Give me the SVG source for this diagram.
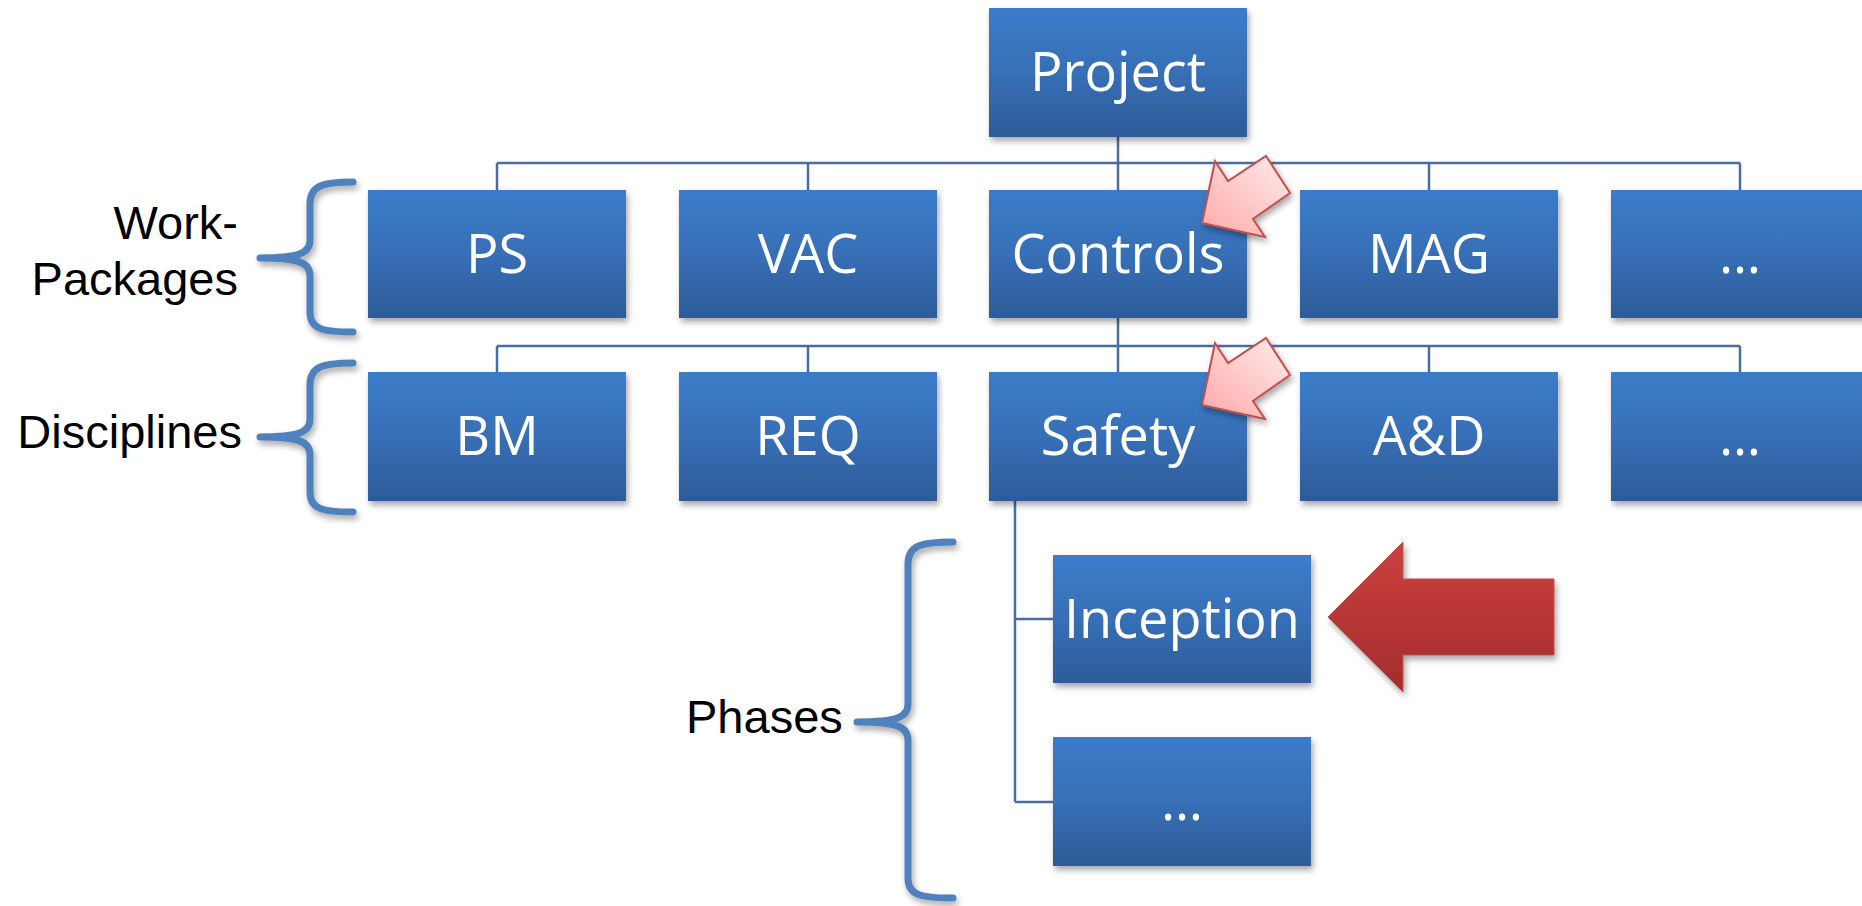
<svg xmlns="http://www.w3.org/2000/svg" width="1862" height="906" viewBox="0 0 1862 906">
  <defs>
    <linearGradient id="boxFill" x1="0" y1="0" x2="0" y2="1">
      <stop offset="0" stop-color="#3b7cca"/>
      <stop offset="0.5" stop-color="#376fb6"/>
      <stop offset="1" stop-color="#2d5b98"/>
    </linearGradient>
    <linearGradient id="pinkFill" x1="0" y1="1" x2="1" y2="0">
      <stop offset="0" stop-color="#ffa8a8"/>
      <stop offset="1" stop-color="#ffecec"/>
    </linearGradient>
    <linearGradient id="redFill" x1="0" y1="0" x2="0" y2="1">
      <stop offset="0" stop-color="#cc403e"/>
      <stop offset="1" stop-color="#a32d2c"/>
    </linearGradient>
    <filter id="shadow" x="-10%" y="-10%" width="125%" height="135%">
      <feDropShadow dx="2" dy="4" stdDeviation="3" flood-color="#000" flood-opacity="0.35"/>
    </filter>
    <style>
      .box { fill: url(#boxFill); filter: url(#shadow); }
      .lbl { fill: #ffffff; font-family: "Open Sans", "Noto Sans", sans-serif; font-size: 54px; text-anchor: middle; }
      .side { fill: #000000; font-family: "Liberation Sans", Arial, sans-serif; font-size: 47px; }
      .conn { fill: none; stroke: #4a6d9f; stroke-width: 2.5; }
      .brace { fill: none; stroke: #4f81bd; stroke-width: 7; stroke-linecap: round; stroke-linejoin: round; filter: url(#shadow); }
      .pink { fill: url(#pinkFill); stroke: #c0504d; stroke-width: 2; filter: url(#shadow); }
      .red { fill: url(#redFill); stroke: #c0504d; stroke-width: 1; filter: url(#shadow); }
    </style>
  </defs>

  <rect width="1862" height="906" fill="#ffffff"/>

  <!-- connectors -->
  <g id="connectors">
    <path class="conn" d="M1118,137 V163 M497,163 H1740 M497,163 V190 M808,163 V190 M1118,163 V190 M1429,163 V190 M1740,163 V190"/>
    <path class="conn" d="M1118,318 V346 M497,346 H1740 M497,346 V372 M808,346 V372 M1118,346 V372 M1429,346 V372 M1740,346 V372"/>
    <path class="conn" d="M1015,501 V802 M1015,619 H1053 M1015,802 H1053"/>
  </g>

  <!-- top -->
  <g id="project">
    <rect class="box" x="989" y="8" width="258" height="129"/>
    <text class="lbl" x="1118" y="91">Project</text>
  </g>

  <!-- work packages -->
  <g id="wp-ps">
    <rect class="box" x="368" y="190" width="258" height="128"/>
    <text class="lbl" x="497" y="273">PS</text>
  </g>
  <g id="wp-vac">
    <rect class="box" x="679" y="190" width="258" height="128"/>
    <text class="lbl" x="808" y="273">VAC</text>
  </g>
  <g id="wp-controls">
    <rect class="box" x="989" y="190" width="258" height="128"/>
    <text class="lbl" x="1118" y="273">Controls</text>
  </g>
  <g id="wp-mag">
    <rect class="box" x="1300" y="190" width="258" height="128"/>
    <text class="lbl" x="1429" y="273">MAG</text>
  </g>
  <g id="wp-more">
    <rect class="box" x="1611" y="190" width="258" height="128"/>
    <text class="lbl" x="1740" y="273">…</text>
  </g>

  <!-- disciplines -->
  <g id="d-bm">
    <rect class="box" x="368" y="372" width="258" height="129"/>
    <text class="lbl" x="497" y="455">BM</text>
  </g>
  <g id="d-req">
    <rect class="box" x="679" y="372" width="258" height="129"/>
    <text class="lbl" x="808" y="455">REQ</text>
  </g>
  <g id="d-safety">
    <rect class="box" x="989" y="372" width="258" height="129"/>
    <text class="lbl" x="1118" y="455">Safety</text>
  </g>
  <g id="d-ad">
    <rect class="box" x="1300" y="372" width="258" height="129"/>
    <text class="lbl" x="1429" y="455">A&amp;D</text>
  </g>
  <g id="d-more">
    <rect class="box" x="1611" y="372" width="258" height="129"/>
    <text class="lbl" x="1740" y="455">…</text>
  </g>

  <!-- phases -->
  <g id="p-inception">
    <rect class="box" x="1053" y="555" width="258" height="128"/>
    <text class="lbl" x="1182" y="638">Inception</text>
  </g>
  <g id="p-more">
    <rect class="box" x="1053" y="737" width="258" height="129"/>
    <text class="lbl" x="1182" y="820">…</text>
  </g>

  <!-- level braces and captions -->
  <g id="brace-wp">
    <path class="brace" d="M353,182 C322,182 310,186 310,204 L310,240 C310,253 300,258 260,258 C300,258 310,263 310,276 L310,312 C310,329 322,332 353,332"/>
    <text class="side" x="238" y="239" text-anchor="end">Work-</text>
    <text class="side" x="238" y="295" text-anchor="end">Packages</text>
  </g>
  <g id="brace-disc">
    <path class="brace" d="M353,363 C322,363 310,367 310,385 L310,419 C310,432 300,437 260,437 C300,437 310,442 310,455 L310,492 C310,509 322,512 353,512"/>
    <text class="side" x="242" y="448" text-anchor="end">Disciplines</text>
  </g>
  <g id="brace-phases">
    <path class="brace" d="M953,542 C920,542 908,546 908,564 L908,704 C908,717 898,722 857,722 C898,722 908,727 908,740 L908,878 C908,895 920,898 953,898"/>
    <text class="side" x="686" y="733">Phases</text>
  </g>

  <!-- highlight arrows -->
  <g id="hl-controls">
    <polygon class="pink" points="1202,223 1215,161 1228,181 1266,156 1290,193 1253,219 1265,237"/>
  </g>
  <g id="hl-safety">
    <polygon class="pink" points="1202,405 1215,343 1228,363 1266,338 1290,375 1253,401 1265,419"/>
  </g>
  <g id="hl-inception">
    <polygon class="red" points="1328,617 1403,542 1403,579 1554,579 1554,655 1403,655 1403,692"/>
  </g>
</svg>
